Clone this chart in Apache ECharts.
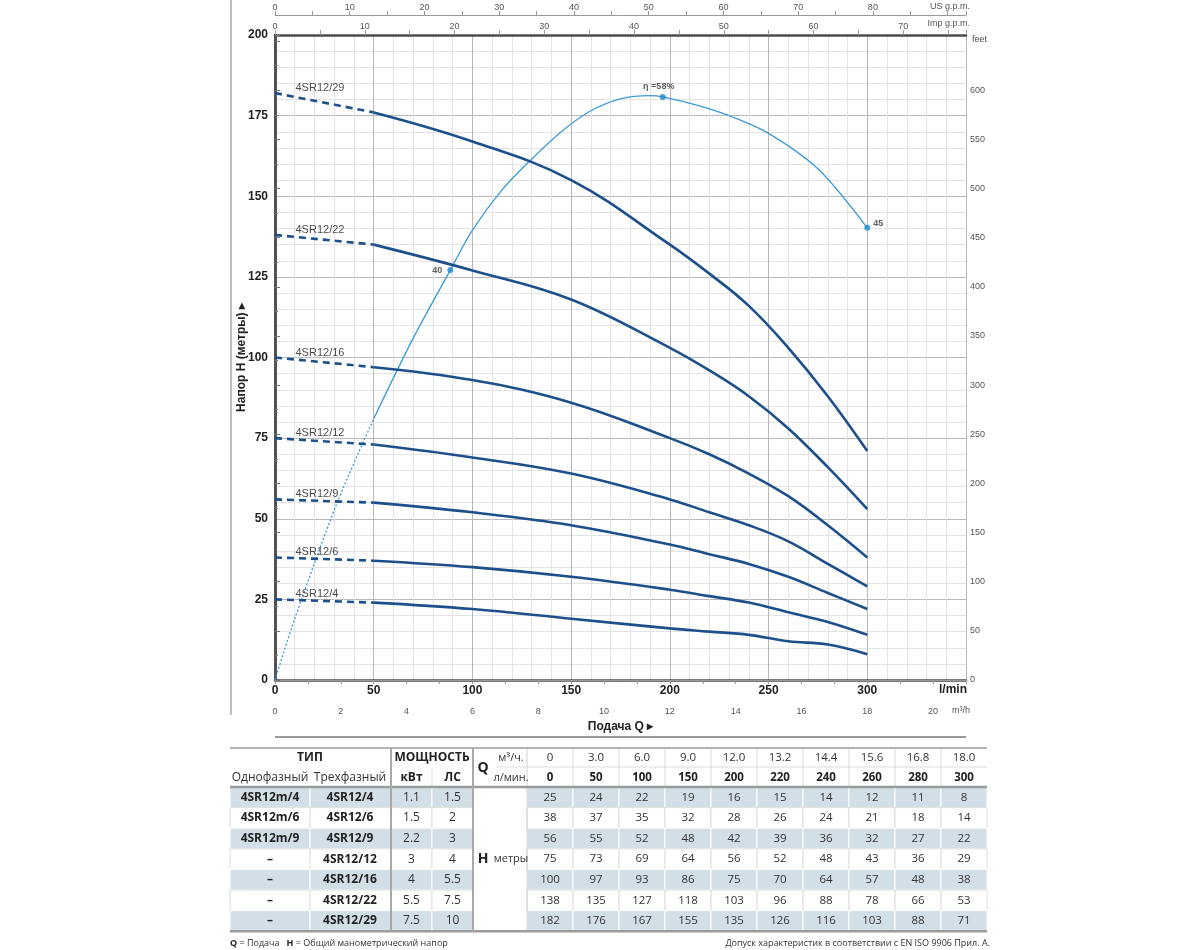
<!DOCTYPE html>
<html><head><meta charset="utf-8">
<script src="https://cdn.jsdelivr.net/npm/echarts@6/dist/echarts.min.js"></script>
<style>html,body{margin:0;padding:0;background:#fff}#c{width:1200px;height:950px}</style>
</head><body><div id="c"></div>
<script>
// ---------- data ----------
const flowLmin = [0, 50, 100, 150, 200, 220, 240, 260, 280, 300];
const flowM3h = ['0', '3.0', '6.0', '9.0', '12.0', '13.2', '14.4', '15.6', '16.8', '18.0'];
const modelsSingle = ['4SR12m/4', '4SR12m/6', '4SR12m/9', '–', '–', '–', '–'];
const modelsThree = ['4SR12/4', '4SR12/6', '4SR12/9', '4SR12/12', '4SR12/16', '4SR12/22', '4SR12/29'];
const powerKW = ['1.1', '1.5', '2.2', '3', '4', '5.5', '7.5'];
const powerHP = ['1.5', '2', '3', '4', '5.5', '7.5', '10'];
const head_4 = [25, 24, 22, 19, 16, 15, 14, 12, 11, 8];
const head_6 = [38, 37, 35, 32, 28, 26, 24, 21, 18, 14];
const head_9 = [56, 55, 52, 48, 42, 39, 36, 32, 27, 22];
const head_12 = [75, 73, 69, 64, 56, 52, 48, 43, 36, 29];
const head_16 = [100, 97, 93, 86, 75, 70, 64, 57, 48, 38];
const head_22 = [138, 135, 127, 118, 103, 96, 88, 78, 66, 53];
const head_29 = [182, 176, 167, 155, 135, 126, 116, 103, 88, 71];
// efficiency curve (drawn in head coordinates)
const effDottedQ = [0, 10, 31.5, 50];
const effDottedH = [0, 19, 55, 81];
const effQ = [50, 70, 88.8, 100, 115, 130, 145, 160, 175, 190, 196.4, 215, 232, 250, 275, 300];
const effH = [81, 106, 127.1, 139.5, 152, 161.5, 170, 176.5, 180.2, 181.2, 180.8, 178, 174.5, 169.5, 158.5, 140.2];
const effMarkQ = [88.8, 196.4, 300];
const effMarkH = [127.1, 180.8, 140.2];
const effMarkText = ['40', 'η =58%', '45'];
// axis units
const usGpmPerLmin = 1 / 3.78541;
const impGpmPerLmin = 1 / 4.54609;
const feetPerM = 3.28084;

// ---------- chart ----------
const heads = [head_4, head_6, head_9, head_12, head_16, head_22, head_29];
const curveColor = '#1d4f8b';
const effColor = '#3a9ad8';
const chartFont = '"Liberation Sans", Arial, sans-serif';
const tblFont = '"Open Sans", "Noto Sans", sans-serif';
const frame = {color: '#4d4d4d', width: 2.5};

const series = [];
heads.forEach((h, i) => {
  series.push({type: 'line', data: flowLmin.slice(0, 2).map((q, j) => [q, h[j]]), symbol: 'none',
    lineStyle: {color: curveColor, width: 2.6, type: [7, 5]}, z: 4, silent: true});
  series.push({type: 'line', data: flowLmin.slice(1).map((q, j) => [q, h[j + 1]]), symbol: 'none',
    smooth: 0.4, lineStyle: {color: curveColor, width: 2.6}, z: 4, silent: true});
});
series.push({type: 'scatter', symbolSize: 1, itemStyle: {color: 'rgba(0,0,0,0)'}, z: 6, silent: true,
  data: heads.map((h, i) => ({name: modelsThree[i], value: [0, h[0]]})),
  label: {show: true, position: 'right', distance: 0, offset: [20, -5], formatter: '{b}',
    fontSize: 11, color: '#1a1a1a', fontFamily: chartFont}});
series.push({type: 'line', data: effDottedQ.map((q, i) => [q, effDottedH[i]]), symbol: 'none', smooth: 0.3,
  lineStyle: {color: effColor, width: 1.3, type: [2, 2]}, z: 3, silent: true});
series.push({type: 'line', data: effQ.map((q, i) => [q, effH[i]]), symbol: 'none', smooth: 0.3,
  lineStyle: {color: effColor, width: 1.3}, z: 3, silent: true});
const effLabelCfg = [
  {position: 'left', distance: 5, offset: [0, 0]},
  {position: 'top', distance: 3, offset: [-4, 0]},
  {position: 'right', distance: 3, offset: [0, -4]}
];
series.push({type: 'scatter', symbolSize: 6, itemStyle: {color: '#1e8ad0'}, z: 7, silent: true,
  data: effMarkQ.map((q, i) => ({value: [q, effMarkH[i]], name: effMarkText[i], label: effLabelCfg[i]})),
  label: {show: true, formatter: '{b}', fontSize: 9, fontWeight: 'bold', color: '#333', fontFamily: chartFont}});

// ---------- graphic (units, table, footer) ----------
const g = [];
function txt(x, y, s, st) {
  g.push({type: 'text', x: x, y: y, silent: true, z: 10,
    style: Object.assign({text: s, align: 'center', verticalAlign: 'middle', fill: '#222',
      font: '12px ' + tblFont}, st || {})});
}
function rect(x, y, w, h, fill, stroke) {
  g.push({type: 'rect', shape: {x: x, y: y, width: w, height: h}, silent: true, z: 5,
    style: {fill: fill, stroke: stroke || null, lineWidth: 1}});
}
function line(x1, y1, x2, y2, stroke, lw) {
  g.push({type: 'line', shape: {x1: x1, y1: y1, x2: x2, y2: y2}, silent: true, z: 8,
    style: {stroke: stroke, lineWidth: lw || 1}});
}
// unit labels around the plot
txt(970, 7, 'US g.p.m.', {align: 'right', font: '9px ' + chartFont, fill: '#555'});
txt(970, 24, 'Imp g.p.m.', {align: 'right', font: '9px ' + chartFont, fill: '#555'});
txt(972, 40, 'feet', {align: 'left', font: '9px ' + chartFont, fill: '#555'});
txt(967, 690, 'l/min', {align: 'right', font: 'bold 12px ' + chartFont, fill: '#222'});
txt(970, 711, 'm³/h', {align: 'right', font: '9px ' + chartFont, fill: '#555'});
line(275, 737, 966, 737, '#777', 1.5);
line(231, 0, 231, 715, '#aaa', 1.5);

// table
const TL = 230, TR = 987, TT = 748, H1 = 767, H2 = 787, RH = 20.6;
const VX = 527;
const vw = (TR - VX) / 10;
const vc = i => VX + vw * (i + 0.5);
const TB = H2 + RH * 7;
const leftCols = [[230, 310], [310, 391], [391, 432], [432, 473]];
for (let r = 0; r < 7; r++) {
  const y = H2 + r * RH;
  const blue = r % 2 === 0;
  const fill = blue ? '#d3dfe7' : '#ffffff';
  const stroke = blue ? '#ffffff' : '#dedede';
  leftCols.forEach(c => rect(c[0], y, c[1] - c[0], RH, fill, stroke));
  for (let i = 0; i < 10; i++) rect(VX + vw * i, y, vw, RH, fill, stroke);
  const cy = y + RH / 2;
  txt(270, cy, modelsSingle[r], {font: 'bold 12px ' + tblFont});
  txt(350, cy, modelsThree[r], {font: 'bold 12px ' + tblFont});
  txt(411.5, cy, powerKW[r], {font: '12px ' + tblFont, fill: '#333'});
  txt(452.5, cy, powerHP[r], {font: '12px ' + tblFont, fill: '#333'});
  heads[r].forEach((v, i) => txt(vc(i), cy, String(v), {font: '11.5px ' + tblFont, fill: '#333'}));
}
// header
txt(310, 757.5, 'ТИП', {font: 'bold 12px ' + tblFont});
txt(432, 757.5, 'МОЩНОСТЬ', {font: 'bold 12px ' + tblFont});
txt(483, 768, 'Q', {font: 'bold 14px ' + tblFont});
txt(511, 757.5, 'м³/ч.', {font: '11px ' + tblFont, fill: '#333'});
txt(511, 777.5, 'л/мин.', {font: '11px ' + tblFont, fill: '#333'});
txt(270, 777.5, 'Однофазный', {font: '12px ' + tblFont, fill: '#333'});
txt(350, 777.5, 'Трехфазный', {font: '12px ' + tblFont, fill: '#333'});
txt(411.5, 777.5, 'кВт', {font: 'bold 12px ' + tblFont});
txt(452.5, 777.5, 'ЛС', {font: 'bold 12px ' + tblFont});
flowM3h.forEach((s, i) => txt(vc(i), 757.5, s, {font: '11.5px ' + tblFont, fill: '#333'}));
flowLmin.forEach((s, i) => txt(vc(i), 777.5, String(s), {font: 'bold 11.5px ' + tblFont}));
txt(483, H2 + RH * 3.5, 'H', {font: 'bold 14px ' + tblFont});
txt(511, H2 + RH * 3.5, 'метры', {font: '11px ' + tblFont, fill: '#333'});
// table lines
for (let i = 1; i < 10; i++) line(VX + vw * i, TT, VX + vw * i, H2, '#dcdcdc', 1);
line(496, H1, TR, H1, '#dcdcdc', 1);
line(VX, TT, VX, TB, '#d0d0d0', 1);
line(432, H1 + 2, 432, H2, '#dcdcdc', 1);
line(TL, TT, TR, TT, '#b4b4b4', 2);
line(TL, H2, TR, H2, '#9c9c9c', 2.5);
line(TL, TB, TR, TB, '#9c9c9c', 2.5);
line(391, TT, 391, TB, '#a8a8a8', 2);
line(473, TT, 473, TB, '#a8a8a8', 2);
// footer
g.push({type: 'text', x: 230, y: 943, silent: true, z: 10,
  style: {text: '{b|Q} = Подача   {b|H} = Общий манометрический напор', verticalAlign: 'middle', align: 'left',
    font: '9px ' + tblFont, fill: '#333', rich: {b: {font: 'bold 9px ' + tblFont, fill: '#222'}}}});
txt(990, 943, 'Допуск характеристик в соответствии с EN ISO 9906 Прил. A.',
  {align: 'right', font: '9px ' + tblFont, fill: '#333'});

const option = {
  animation: false,
  backgroundColor: '#fff',
  grid: {left: 275, right: 234, top: 35, bottom: 270, containLabel: false},
  xAxis: [
    {type: 'value', min: 0, max: 350, interval: 50, position: 'bottom',
      axisLine: {show: true, lineStyle: frame}, axisTick: {show: false},
      axisLabel: {fontSize: 12, fontWeight: 'bold', color: '#222', margin: 5, fontFamily: chartFont,
        formatter: v => (v === 350 ? '' : String(v))},
      splitLine: {show: true, lineStyle: {color: '#b8b8b8', width: 1}},
      minorTick: {show: false, splitNumber: 5},
      minorSplitLine: {show: true, lineStyle: {color: '#e3e3e3', width: 1}}},
    {type: 'value', min: 0, max: 350 / 16.6667, interval: 2, position: 'bottom', offset: 23,
      axisLine: {show: true, lineStyle: {color: '#999', width: 1}},
      axisTick: {show: true, length: 4, lineStyle: {color: '#999'}},
      minorTick: {show: true, splitNumber: 2, length: 4, lineStyle: {color: '#999'}},
      axisLabel: {fontSize: 9, color: '#555', margin: 4, fontFamily: chartFont, showMaxLabel: false},
      splitLine: {show: false},
      name: 'Подача Q ▸', nameLocation: 'middle', nameGap: 18, nameMoveOverlap: false,
      nameTextStyle: {fontSize: 12, fontWeight: 'bold', color: '#222', fontFamily: chartFont}},
    {type: 'value', min: 0, max: 350 * usGpmPerLmin, interval: 10, position: 'top', offset: 20,
      axisLine: {show: true, lineStyle: {color: '#999', width: 1}},
      axisTick: {show: true, length: 4, lineStyle: {color: '#999'}},
      minorTick: {show: true, splitNumber: 2, length: 4, lineStyle: {color: '#999'}},
      axisLabel: {fontSize: 9, color: '#555', margin: 3, fontFamily: chartFont, showMaxLabel: false,
        formatter: v => (v >= 90 ? '' : String(v))},
      splitLine: {show: false}},
    {type: 'value', min: 0, max: 350 * impGpmPerLmin, interval: 10, position: 'top', offset: 0,
      axisLine: {show: true, lineStyle: frame},
      axisTick: {show: true, length: 5, lineStyle: {color: '#999'}},
      minorTick: {show: true, splitNumber: 2, length: 5, lineStyle: {color: '#999'}},
      axisLabel: {fontSize: 9, color: '#555', margin: 4, fontFamily: chartFont, showMaxLabel: false},
      splitLine: {show: false}}
  ],
  yAxis: [
    {type: 'value', min: 0, max: 200, interval: 25, position: 'left',
      axisLine: {show: true, lineStyle: frame}, axisTick: {show: false},
      axisLabel: {fontSize: 12, fontWeight: 'bold', color: '#222', margin: 7, fontFamily: chartFont},
      splitLine: {show: true, lineStyle: {color: '#b8b8b8', width: 1}},
      minorTick: {show: false, splitNumber: 5},
      minorSplitLine: {show: true, lineStyle: {color: '#e3e3e3', width: 1}},
      name: 'Напор H (метры) ▸', nameLocation: 'middle', nameGap: 27, nameMoveOverlap: false,
      nameTextStyle: {fontSize: 12, fontWeight: 'bold', color: '#222', fontFamily: chartFont}},
    {type: 'value', min: 0, max: 200 * feetPerM, interval: 50, position: 'right',
      axisLine: {show: true, lineStyle: frame},
      axisTick: {show: true, length: 5, lineStyle: {color: '#777'}},
      minorTick: {show: true, splitNumber: 2, length: 3, lineStyle: {color: '#777'}},
      axisLabel: {fontSize: 9, color: '#555', margin: 4, fontFamily: chartFont, showMaxLabel: false,
        formatter: v => (v >= 650 ? '' : String(v))},
      splitLine: {show: false}}
  ],
  series: series,
  graphic: {elements: g}
};
const chart = echarts.init(document.getElementById('c'));
chart.setOption(option);
</script>
</body></html>
